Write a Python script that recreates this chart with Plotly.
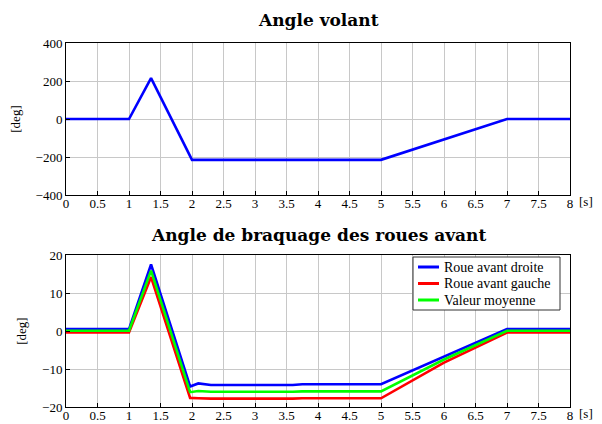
import plotly.graph_objects as go

# Angle volant
t_vol = [0, 1, 1.35, 2, 5, 7, 8]
angle_vol = [0, 0, 215, -215, -215, 0, 0]

# Angle de braquage des roues avant
t_roue = [0, 1, 1.35, 1.97, 2.1, 2.3, 3.6, 3.75, 5, 6, 7, 8]
droite = [0.5, 0.5, 17.5, -14.6, -13.8, -14.2, -14.2, -14.0, -14.0, -6.8, 0.5, 0.5]
gauche = [-0.4, -0.4, 14.2, -17.6, -17.7, -17.8, -17.8, -17.7, -17.7, -8.3, -0.4, -0.4]
moyenne = [0.05, 0.05, 15.9, -16.1, -15.8, -16.0, -16.0, -15.9, -15.9, -7.5, 0.05, 0.05]

noms = ["Roue avant droite", "Roue avant gauche", "Valeur moyenne"]
couleurs = ["#0000ff", "#ff0000", "#00ff00"]

xticks = [i * 0.5 for i in range(17)]
xlabels = ["0", "0.5", "1", "1.5", "2", "2.5", "3", "3.5", "4", "4.5",
           "5", "5.5", "6", "6.5", "7", "7.5", "8"]

FONT = "Liberation Serif, DejaVu Serif, serif"
TFONT = "DejaVu Serif, serif"
# the page body has an 8 px margin, so the figure is drawn 8 px smaller
OFF = 8
W, H = 602 - OFF, 424 - OFF


def px(x):
    return (x - OFF) / W


def py(y):
    return 1 - (y - OFF) / H


fig = go.Figure()
fig.add_trace(go.Scatter(x=t_vol, y=angle_vol, mode="lines", showlegend=False,
                         line=dict(color="#0000ff", width=2.6), xaxis="x", yaxis="y"))
for nom, serie, c in zip(noms, [droite, gauche, moyenne], couleurs):
    fig.add_trace(go.Scatter(x=t_roue, y=serie, mode="lines", name=nom, showlegend=False,
                             line=dict(color=c, width=2.6), xaxis="x2", yaxis="y2"))

xdom = [px(66), px(570)]
common_x = dict(range=[0, 8], tickvals=xticks, ticktext=xlabels, showgrid=True,
                gridcolor="#c8c8c8", gridwidth=1, showline=True, linecolor="black",
                linewidth=1, mirror=True, ticks="inside", ticklen=4, tickcolor="black",
                zeroline=False, automargin=False, ticklabelstandoff=-4,
                tickfont=dict(size=13, family=FONT, color="black"))
common_y = dict(showgrid=True, gridcolor="#c8c8c8", gridwidth=1, showline=True,
                linecolor="black", linewidth=1, mirror=True, ticks="inside", ticklen=4,
                tickcolor="black", zeroline=False, automargin=False,
                tickfont=dict(size=13, family=FONT, color="black"),
                title=dict(text="[deg]", font=dict(size=13, family=FONT, color="black"),
                           standoff=12))

# legende dessinee a la main (cadre, traits, textes)
shapes = [dict(type="rect", xref="paper", yref="paper", x0=px(413), x1=px(560),
               y0=py(310), y1=py(257), line=dict(color="#333333", width=1),
               fillcolor="white", layer="above")]
annots = []
for i, (nom, c) in enumerate(zip(noms, couleurs)):
    yy = 267 + i * 16.5
    shapes.append(dict(type="line", xref="paper", yref="paper", x0=px(418), x1=px(439),
                       y0=py(yy), y1=py(yy), line=dict(color=c, width=3), layer="above"))
    annots.append(dict(text=nom, x=px(442), y=py(yy), xref="paper", yref="paper",
                       xanchor="left", yanchor="middle", showarrow=False,
                       font=dict(size=14, family=FONT, color="black")))

fig.update_layout(
    width=W, height=H,
    margin=dict(l=0, r=0, t=0, b=0),
    paper_bgcolor="white", plot_bgcolor="white",
    font=dict(family=FONT, color="black"),
    showlegend=False,
    xaxis=dict(domain=xdom, anchor="y", **common_x),
    yaxis=dict(domain=[py(195), py(43)], anchor="x", range=[-400, 400],
               tickvals=[-400, -200, 0, 200, 400],
               ticktext=["\u2212400", "\u2212200", "0", "200", "400"], **common_y),
    xaxis2=dict(domain=xdom, anchor="y2", **common_x),
    yaxis2=dict(domain=[py(407), py(255)], anchor="x2", range=[-20, 20],
                tickvals=[-20, -10, 0, 10, 20],
                ticktext=["\u221220", "\u221210", "0", "10", "20"], **common_y),
    shapes=shapes,
    annotations=annots + [
        dict(text="<b>Angle volant</b>", x=px(318), y=py(20), xref="paper",
             yref="paper", yanchor="middle", showarrow=False,
             font=dict(size=17, family=TFONT)),
        dict(text="<b>Angle de braquage des roues avant</b>", x=px(318), y=py(235),
             xref="paper", yref="paper", yanchor="middle", showarrow=False,
             font=dict(size=17, family=TFONT)),
        dict(text="[s]", x=px(595), y=py(201), xref="paper", yref="paper",
             yanchor="middle", showarrow=False, font=dict(size=13, family=FONT)),
        dict(text="[s]", x=px(595), y=py(413), xref="paper", yref="paper",
             yanchor="middle", showarrow=False, font=dict(size=13, family=FONT)),
    ],
)

fig.write_html("out.html")
